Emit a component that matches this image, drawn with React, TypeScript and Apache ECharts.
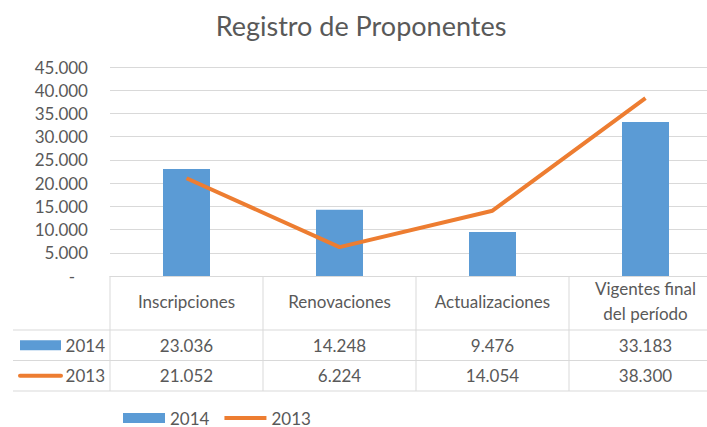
import React, { useEffect, useRef } from "react";
import * as echarts from "echarts";

const categories = ["Inscripciones", "Renovaciones", "Actualizaciones", "Vigentes final\ndel período"];
const seriesNames = ["2014", "2013"];
const values2014 = [23036, 14248, 9476, 33183];
const values2013 = [21052, 6224, 14054, 38300];
const yMax = 45000;
const yInterval = 5000;

const FONT = "Lato, 'Open Sans', sans-serif";
const TEXT = "#595959";
const GRIDC = "#d9d9d9";
const BLUE = "#5B9BD5";
const ORANGE = "#ED7D31";
const FS = 17;
const CHART_W = 722;

const fmt = (v: number) => String(v).replace(/\B(?=(\d{3})+(?!\d))/g, ".");

export default function App() {
  const ref = useRef<HTMLDivElement>(null);
  useEffect(() => {
    if (!ref.current) return;
    const chart = echarts.init(ref.current, null, { renderer: "svg" });
    const W = CHART_W;
    const gLeft = 110;
    const gRight = 0;
    const gTop = 67;
    const axisY = 276;
    const plotW = W - gLeft - gRight;
    const colW = plotW / categories.length;
    const rowLines = [330, 360.5, 391];
    const tableLeft = 13;
    const tableRight = W - gRight;
    const graphics: any[] = [];
    graphics.push({
      type: "text",
      x: 361,
      y: 25,
      style: {
        text: "Registro de Proponentes",
        fill: TEXT,
        fontSize: 27,
        fontFamily: FONT,
        align: "center",
        verticalAlign: "middle",
      },
    });
    rowLines.forEach((y) => {
      graphics.push({
        type: "line",
        shape: { x1: tableLeft, y1: y, x2: tableRight, y2: y },
        style: { stroke: GRIDC, lineWidth: 1 },
        silent: true,
      });
    });
    for (let i = 0; i <= categories.length; i++) {
      const x = gLeft + i * colW;
      graphics.push({
        type: "line",
        shape: { x1: x, y1: axisY, x2: x, y2: rowLines[2] },
        style: { stroke: GRIDC, lineWidth: 1 },
        silent: true,
      });
    }
    const rowsData = [values2014, values2013];
    const rowMid = [(rowLines[0] + rowLines[1]) / 2, (rowLines[1] + rowLines[2]) / 2];
    categories.forEach((c, i) => {
      const cx = gLeft + (i + 0.5) * colW;
      graphics.push({
        type: "text",
        x: cx,
        y: 301,
        style: {
          text: c,
          fill: TEXT,
          fontSize: FS,
          fontFamily: FONT,
          lineHeight: 25,
          align: "center",
          verticalAlign: "middle",
        },
      });
      rowsData.forEach((arr, r) => {
        graphics.push({
          type: "text",
          x: cx,
          y: rowMid[r],
          style: {
            text: fmt(arr[i]),
            fill: TEXT,
            fontSize: FS,
            fontFamily: FONT,
            align: "center",
            verticalAlign: "middle",
          },
        });
      });
    });
    graphics.push({
      type: "rect",
      shape: { x: 20, y: rowMid[0] - 5, width: 41, height: 10 },
      style: { fill: BLUE },
    });
    graphics.push({
      type: "line",
      shape: { x1: 20, y1: rowMid[1], x2: 61, y2: rowMid[1] },
      style: { stroke: ORANGE, lineWidth: 4, lineCap: "round" },
    });
    seriesNames.forEach((n, r) => {
      graphics.push({
        type: "text",
        x: 105,
        y: rowMid[r],
        style: {
          text: n,
          fill: TEXT,
          fontSize: FS,
          fontFamily: FONT,
          align: "right",
          verticalAlign: "middle",
        },
      });
    });

    chart.setOption({
      animation: false,
      legend: {
        left: 118,
        top: 409,
        itemWidth: 42,
        itemHeight: 10,
        itemGap: 15,
        padding: [0, 5],
        textStyle: { color: TEXT, fontSize: FS, fontFamily: FONT, lineHeight: 18 },
        data: [
          { name: "2014", icon: "rect" },
          { name: "2013", icon: "path://M0,3H42V7H0Z" },
        ],
      },
      grid: { left: gLeft, right: gRight, top: gTop, bottom: 427 - axisY, containLabel: false },
      xAxis: {
        type: "category",
        data: categories,
        axisLine: { lineStyle: { color: GRIDC } },
        axisTick: { show: false },
        axisLabel: { show: false },
      },
      yAxis: {
        type: "value",
        min: 0,
        max: yMax,
        interval: yInterval,
        axisLine: { show: false },
        axisTick: { show: false },
        splitLine: { lineStyle: { color: GRIDC, width: 1 } },
        axisLabel: {
          color: TEXT,
          fontSize: FS,
          fontFamily: FONT,
          margin: 22,
          formatter: (v: number) => (v === 0 ? "-   " : fmt(v)),
        },
      },
      series: [
        {
          name: "2014",
          type: "bar",
          data: values2014,
          barWidth: 47,
          itemStyle: { color: BLUE },
        },
        {
          name: "2013",
          type: "line",
          data: values2013,
          symbol: "none",
          lineStyle: { color: ORANGE, width: 4 },
          itemStyle: { color: ORANGE },
          z: 5,
        },
      ],
      graphic: graphics,
    });
    return () => chart.dispose();
  }, []);
  return (
    <div style={{ width: 707, height: 427, position: "absolute", left: 0, top: 0, overflow: "hidden" }}>
      <div ref={ref} style={{ width: CHART_W, height: 427 }} />
    </div>
  );
}
